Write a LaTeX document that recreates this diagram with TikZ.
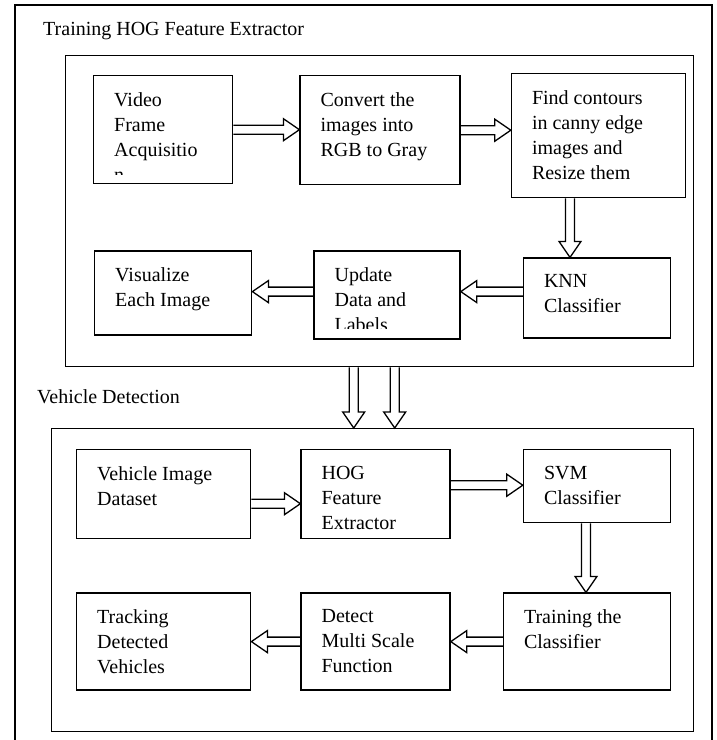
\documentclass[tikz,border=0pt]{standalone}
\usepackage{fontspec}
\setmainfont{Liberation Serif}
\usetikzlibrary{positioning, calc}
\tikzset{
  blk/.style={draw, line width=1.4pt, inner sep=0pt},
  intext/.style={anchor=north west, align=left, inner sep=0pt, font=\fontsize{20}{25}\selectfont},
  harrow/.style={draw, line width=1.3pt, line join=miter},
  title/.style={anchor=base west, inner sep=0pt},
}
\newcommand{\hollowarrow}[2]{%
  \coordinate (ha) at (#1);
  \coordinate (hb) at (#2);
  \coordinate (hc) at ($(hb)!16pt!(ha)$);
  \draw[harrow] ($(ha)!4.5pt!90:(hb)$) -- ($(hc)!4.5pt!90:(hb)$) -- ($(hc)!11pt!90:(hb)$) -- (hb)
    -- ($(hc)!11pt!-90:(hb)$) -- ($(hc)!4.5pt!-90:(hb)$) -- ($(ha)!4.5pt!-90:(hb)$);
}

\begin{document}
\begin{tikzpicture}[x=1pt, y=-1pt, font=\fontsize{20}{25}\selectfont]
  \useasboundingbox (0,0) rectangle (716,740);
  \draw[line width=1.2pt] (15,5) rectangle (712,745);

  \node[title] (traintitle) at (43,35) {Training HOG Feature Extractor};
  \node[blk, anchor=north west, minimum width=628pt, minimum height=311pt] (trainbox) at (65,55) {};
  \node[title] (dettitle) at (37,403) {Vehicle Detection};
  \node[blk, anchor=north west, minimum width=642pt, minimum height=303pt] (detbox) at (51,428) {};

  \node[blk, anchor=north west, minimum width=139pt, minimum height=108pt] (vfa) at (93,75) {};
  \node[blk, right=66pt of vfa.north east, anchor=north west, minimum width=160pt, minimum height=109pt] (cvt) {};
  \node[blk, right=50pt of cvt.north east, anchor=north west, yshift=2pt, minimum width=174pt, minimum height=124pt] (fce) {};
  \node[blk, below=59pt of fce.south, anchor=north, xshift=-1.5pt, minimum width=147pt, minimum height=80pt] (knn) {};
  \node[blk, left=62pt of knn.north west, anchor=north east, yshift=7pt, minimum width=146pt, minimum height=88pt] (upd) {};
  \node[blk, left=61pt of upd.north west, anchor=north east, minimum width=157pt, minimum height=84pt] (vis) {};

  \node[blk, anchor=north west, minimum width=174pt, minimum height=89pt] (vid) at (76,449) {};
  \node[blk, right=49pt of vid.north east, anchor=north west, minimum width=149pt, minimum height=89pt] (hog) {};
  \node[blk, right=72pt of hog.north east, anchor=north west, minimum width=147pt, minimum height=73pt] (svm) {};
  \node[blk, below=69pt of svm.south east, anchor=north east, minimum width=167pt, minimum height=97pt] (trn) {};
  \node[blk, left=52pt of trn.north west, anchor=north east, minimum width=149pt, minimum height=97pt] (dms) {};
  \node[blk, left=49pt of dms.north west, anchor=north east, minimum width=174pt, minimum height=97pt] (trk) {};

  \begin{scope}
    \clip (vfa.north west) rectangle ([yshift=10pt]vfa.south east);
    \node[intext] (vfatext) at ([xshift=21pt, yshift=-17pt]vfa.north west) {Video\\Frame\\Acquisitio\\n};
  \end{scope}
  \node[intext] (cvttext) at ([xshift=21pt, yshift=-17pt]cvt.north west) {Convert the\\images into\\RGB to Gray};
  \node[intext] (fcetext) at ([xshift=21pt, yshift=-17pt]fce.north west) {Find contours\\in canny edge\\images and\\Resize them};
  \node[intext] (knntext) at ([xshift=21pt, yshift=-17pt]knn.north west) {KNN\\Classifier};
  \begin{scope}
    \clip (upd.north west) rectangle ([yshift=11pt]upd.south east);
    \node[intext] (updtext) at ([xshift=21pt, yshift=-17pt]upd.north west) {Update\\Data and\\Labels};
  \end{scope}
  \node[intext] (vistext) at ([xshift=21pt, yshift=-17pt]vis.north west) {Visualize\\Each Image};
  \node[intext] (vidtext) at ([xshift=21pt, yshift=-17pt]vid.north west) {Vehicle Image\\Dataset};
  \node[intext] (hogtext) at ([xshift=21pt, yshift=-17pt]hog.north west) {HOG\\Feature\\Extractor};
  \node[intext] (svmtext) at ([xshift=21pt, yshift=-17pt]svm.north west) {SVM\\Classifier};
  \node[intext] (trntext) at ([xshift=21pt, yshift=-17pt]trn.north west) {Training the\\Classifier};
  \node[intext] (dmstext) at ([xshift=21pt, yshift=-17pt]dms.north west) {Detect\\Multi Scale\\Function};
  \node[intext] (trktext) at ([xshift=21pt, yshift=-17pt]trk.north west) {Tracking\\Detected\\Vehicles};

  \hollowarrow{vfa.east}{vfa.east -| cvt.west}
  \hollowarrow{cvt.east}{cvt.east -| fce.west}
  \coordinate (cd) at ([xshift=-28.5pt]fce.south);
  \hollowarrow{cd}{cd |- knn.north}
  \coordinate (de) at ([yshift=6.5pt]knn.west);
  \hollowarrow{de}{de -| upd.east}
  \hollowarrow{de -| upd.west}{de -| vis.east}
  \coordinate (tl) at ([xshift=-26pt]trainbox.south);
  \coordinate (tr) at ([xshift=15pt]trainbox.south);
  \hollowarrow{tl}{tl |- detbox.north}
  \hollowarrow{tr}{tr |- detbox.north}
  \coordinate (gh) at ([yshift=-9.5pt]vid.east);
  \hollowarrow{gh}{gh -| hog.west}
  \coordinate (hi) at ([yshift=9pt]hog.east);
  \hollowarrow{hi}{hi -| svm.west}
  \coordinate (ij) at ([xshift=-11pt]svm.south);
  \hollowarrow{ij}{ij |- trn.north}
  \hollowarrow{trn.west}{trn.west -| dms.east}
  \hollowarrow{dms.west}{dms.west -| trk.east}
\end{tikzpicture}
\end{document}
